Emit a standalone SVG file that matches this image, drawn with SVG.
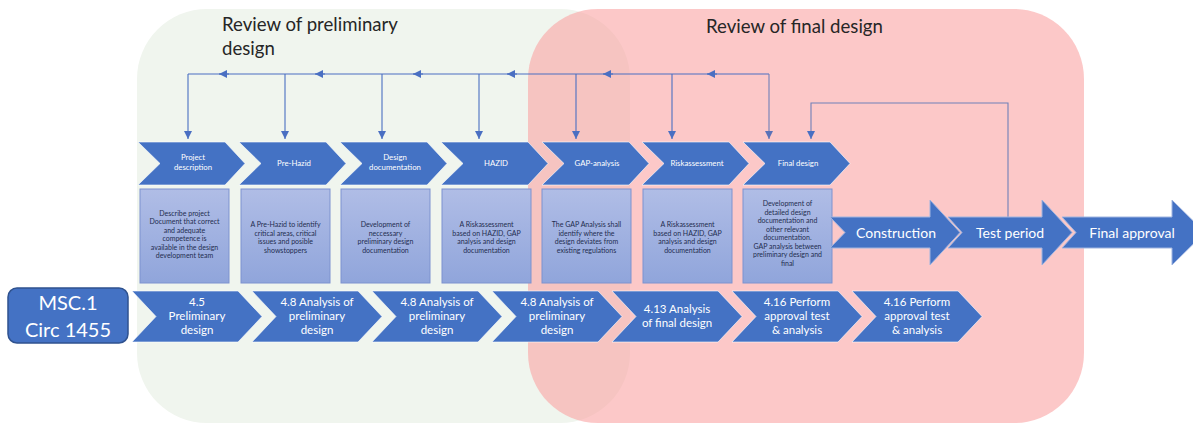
<svg xmlns="http://www.w3.org/2000/svg" width="1193" height="423" viewBox="0 0 1193 423">
<defs>
<linearGradient id="boxg" x1="0" y1="0" x2="0" y2="1">
<stop offset="0" stop-color="#b0bde6"/>
<stop offset="1" stop-color="#90a5db"/>
</linearGradient>
<marker id="ah" viewBox="0 0 8 8" refX="8" refY="4" markerWidth="8" markerHeight="8" orient="auto" markerUnits="userSpaceOnUse">
<path d="M0,0 L8,4 L0,8 z" fill="#4a6fc2"/>
</marker>
<marker id="ah2" viewBox="0 0 8 8" refX="8" refY="4" markerWidth="8" markerHeight="8" orient="auto" markerUnits="userSpaceOnUse">
<path d="M0,0 L8,4 L0,8 z" fill="#5a72b8"/>
</marker>
</defs>
<style>
.chev{fill:#4472c4;stroke:#ffffff;stroke-opacity:0.6;stroke-width:1}
.big{fill:#4472c4;stroke:#9fb4e0;stroke-width:1}
.box{fill:url(#boxg);stroke:#7d92cf;stroke-width:1}
.ct{font-family:Lato,"Liberation Sans",sans-serif;font-size:7.8px;fill:#ffffff;text-anchor:middle}
.bt{font-family:Lato,"Liberation Sans",sans-serif;font-size:7px;fill:#1f2d4f;text-anchor:middle}
.lt{font-family:Lato,"Liberation Sans",sans-serif;font-size:11.5px;fill:#ffffff;text-anchor:middle}
.at{font-family:Lato,"Liberation Sans",sans-serif;font-size:14px;fill:#ffffff;text-anchor:middle}
.ht{font-family:Lato,"Liberation Sans",sans-serif;font-size:18.6px;fill:#262626}
.conn{fill:none;stroke:#4a6fc2;stroke-width:1.1}
.conn2{fill:none;stroke:#6f80b8;stroke-width:1.1}
</style>
<rect width="1193" height="423" fill="#ffffff"/>
<g id="regions">
<rect id="prelim-region" x="137" y="9" width="493" height="414" rx="70" fill="#f0f5ee"/>
<rect id="final-region" x="528" y="9" width="556" height="414" rx="70" fill="rgb(250,163,163)" fill-opacity="0.6"/>
<text class="ht" x="222" y="31">Review of preliminary</text>
<text class="ht" x="222" y="55">design</text>
<text class="ht" x="706" y="33">Review of final design</text>
</g>
<g id="connectors">
<path class="conn" d="M769,74 H188"/>
<path class="conn" d="M188,74 V139" marker-end="url(#ah)"/>
<path class="conn" d="M285,74 V139" marker-end="url(#ah)"/>
<path class="conn" d="M382,74 V139" marker-end="url(#ah)"/>
<path class="conn" d="M479,74 V139" marker-end="url(#ah)"/>
<path class="conn" d="M576,74 V139" marker-end="url(#ah)"/>
<path class="conn" d="M672,74 V139" marker-end="url(#ah)"/>
<path class="conn2" d="M769,74 V139" marker-end="url(#ah2)"/>
<path class="conn" d="M229,74 H219" marker-end="url(#ah)"/>
<path class="conn" d="M325,74 H315" marker-end="url(#ah)"/>
<path class="conn" d="M423,74 H413" marker-end="url(#ah)"/>
<path class="conn" d="M517,74 H507" marker-end="url(#ah)"/>
<path class="conn" d="M613,74 H603" marker-end="url(#ah)"/>
<path class="conn" d="M717,74 H707" marker-end="url(#ah)"/>
<path class="conn2" d="M1008,222 V103 H811 V139" marker-end="url(#ah)"/>
</g>
<g id="project-description">
<path class="chev" d="M138,142 H225 L245,163.5 L225,185 H138 L160,163.5 Z"/>
<text class="ct" x="193" y="160">Project</text>
<text class="ct" x="193" y="170">description</text>
<rect class="box" x="140" y="189" width="89" height="94"/>
<text class="bt" x="184.5" y="215.5">Describe project</text>
<text class="bt" x="184.5" y="224">Document that correct</text>
<text class="bt" x="184.5" y="232.5">and adequate</text>
<text class="bt" x="184.5" y="241">competence is</text>
<text class="bt" x="184.5" y="249.5">available in the design</text>
<text class="bt" x="184.5" y="258">development team</text>
</g>
<g id="pre-hazid">
<path class="chev" d="M239,142 H326 L346,163.5 L326,185 H239 L261,163.5 Z"/>
<text class="ct" x="294" y="166">Pre-Hazid</text>
<rect class="box" x="241" y="189" width="89" height="94"/>
<text class="bt" x="285.5" y="227">A Pre-Hazid to identify</text>
<text class="bt" x="285.5" y="235.5">critical areas, critical</text>
<text class="bt" x="285.5" y="244">issues and posible</text>
<text class="bt" x="285.5" y="252.5">showstoppers</text>
</g>
<g id="design-documentation">
<path class="chev" d="M340,142 H427 L447,163.5 L427,185 H340 L362,163.5 Z"/>
<text class="ct" x="395" y="160">Design</text>
<text class="ct" x="395" y="170">documentation</text>
<rect class="box" x="341" y="189" width="89" height="94"/>
<text class="bt" x="385.5" y="227">Development of</text>
<text class="bt" x="385.5" y="235.5">neccessary</text>
<text class="bt" x="385.5" y="244">preliminary design</text>
<text class="bt" x="385.5" y="252.5">documentation</text>
</g>
<g id="hazid">
<path class="chev" d="M441,142 H528 L548,163.5 L528,185 H441 L463,163.5 Z"/>
<text class="ct" x="496" y="166">HAZID</text>
<rect class="box" x="442" y="189" width="89" height="94"/>
<text class="bt" x="486.5" y="227">A Riskassessment</text>
<text class="bt" x="486.5" y="235.5">based on HAZID, GAP</text>
<text class="bt" x="486.5" y="244">analysis and design</text>
<text class="bt" x="486.5" y="252.5">documentation</text>
</g>
<g id="gap-analysis">
<path class="chev" d="M542,142 H629 L649,163.5 L629,185 H542 L564,163.5 Z"/>
<text class="ct" x="597" y="166">GAP-analysis</text>
<rect class="box" x="542" y="189" width="89" height="94"/>
<text class="bt" x="586.5" y="227">The GAP Analysis shall</text>
<text class="bt" x="586.5" y="235.5">identify where the</text>
<text class="bt" x="586.5" y="244">design deviates from</text>
<text class="bt" x="586.5" y="252.5">existing regulations</text>
</g>
<g id="riskassessment">
<path class="chev" d="M642,142 H729 L749,163.5 L729,185 H642 L664,163.5 Z"/>
<text class="ct" x="697" y="166">Riskassessment</text>
<rect class="box" x="643" y="189" width="89" height="94"/>
<text class="bt" x="687.5" y="227">A Riskassessment</text>
<text class="bt" x="687.5" y="235.5">based on HAZID, GAP</text>
<text class="bt" x="687.5" y="244">analysis and design</text>
<text class="bt" x="687.5" y="252.5">documentation</text>
</g>
<g id="final-design">
<path class="chev" d="M743,142 H830 L850,163.5 L830,185 H743 L765,163.5 Z"/>
<text class="ct" x="798" y="166">Final design</text>
<rect class="box" x="743" y="189" width="89" height="94"/>
<text class="bt" x="787.5" y="206">Development of</text>
<text class="bt" x="787.5" y="214.5">detailed design</text>
<text class="bt" x="787.5" y="223">documentation and</text>
<text class="bt" x="787.5" y="231.5">other relevant</text>
<text class="bt" x="787.5" y="240">documentation.</text>
<text class="bt" x="787.5" y="248.5">GAP analysis between</text>
<text class="bt" x="787.5" y="257">preliminary design and</text>
<text class="bt" x="787.5" y="265.5">final</text>
</g>
<g id="construction">
<path class="big" d="M830,217 H930 V200 L960,232.5 L930,265 V248 H830 L845,232.5 Z"/>
<text class="at" x="896" y="237.5">Construction</text>
</g>
<g id="test-period">
<path class="big" d="M948,217 H1042 V200 L1072,232.5 L1042,265 V248 H948 L962,232.5 Z"/>
<text class="at" x="1010" y="237.5">Test period</text>
</g>
<g id="final-approval">
<path class="big" d="M1062,217 H1172 V200 L1205,232.5 L1172,265 V248 H1062 L1076,232.5 Z"/>
<text class="at" x="1132" y="237.5">Final approval</text>
</g>
<g id="msc">
<rect x="8" y="288" width="120" height="55" rx="9" fill="#4472c4" stroke="#2f528f" stroke-width="1.5"/>
<text x="68" y="310" font-family="Lato,'Liberation Sans',sans-serif" font-size="20px" fill="#ffffff" text-anchor="middle">MSC.1</text>
<text x="68" y="337" font-family="Lato,'Liberation Sans',sans-serif" font-size="20px" fill="#ffffff" text-anchor="middle">Circ 1455</text>
</g>
<g id="s45">
<path class="chev" d="M132,291 H238 L262,316.5 L238,342 H132 L156,316.5 Z"/>
<text class="lt" x="197" y="306">4.5</text>
<text class="lt" x="197" y="320">Preliminary</text>
<text class="lt" x="197" y="334">design</text>
</g>
<g id="s48a">
<path class="chev" d="M252,291 H358 L382,316.5 L358,342 H252 L276,316.5 Z"/>
<text class="lt" x="317" y="306">4.8 Analysis of</text>
<text class="lt" x="317" y="320">preliminary</text>
<text class="lt" x="317" y="334">design</text>
</g>
<g id="s48b">
<path class="chev" d="M372,291 H478 L502,316.5 L478,342 H372 L396,316.5 Z"/>
<text class="lt" x="437" y="306">4.8 Analysis of</text>
<text class="lt" x="437" y="320">preliminary</text>
<text class="lt" x="437" y="334">design</text>
</g>
<g id="s48c">
<path class="chev" d="M492,291 H598 L622,316.5 L598,342 H492 L516,316.5 Z"/>
<text class="lt" x="557" y="306">4.8 Analysis of</text>
<text class="lt" x="557" y="320">preliminary</text>
<text class="lt" x="557" y="334">design</text>
</g>
<g id="s413">
<path class="chev" d="M612,291 H718 L742,316.5 L718,342 H612 L636,316.5 Z"/>
<text class="lt" x="677" y="313">4.13 Analysis</text>
<text class="lt" x="677" y="327">of final design</text>
</g>
<g id="s416a">
<path class="chev" d="M732,291 H838 L862,316.5 L838,342 H732 L756,316.5 Z"/>
<text class="lt" x="797" y="306">4.16 Perform</text>
<text class="lt" x="797" y="320">approval test</text>
<text class="lt" x="797" y="334">&amp; analysis</text>
</g>
<g id="s416b">
<path class="chev" d="M852,291 H958 L982,316.5 L958,342 H852 L876,316.5 Z"/>
<text class="lt" x="917" y="306">4.16 Perform</text>
<text class="lt" x="917" y="320">approval test</text>
<text class="lt" x="917" y="334">&amp; analysis</text>
</g>
</svg>
